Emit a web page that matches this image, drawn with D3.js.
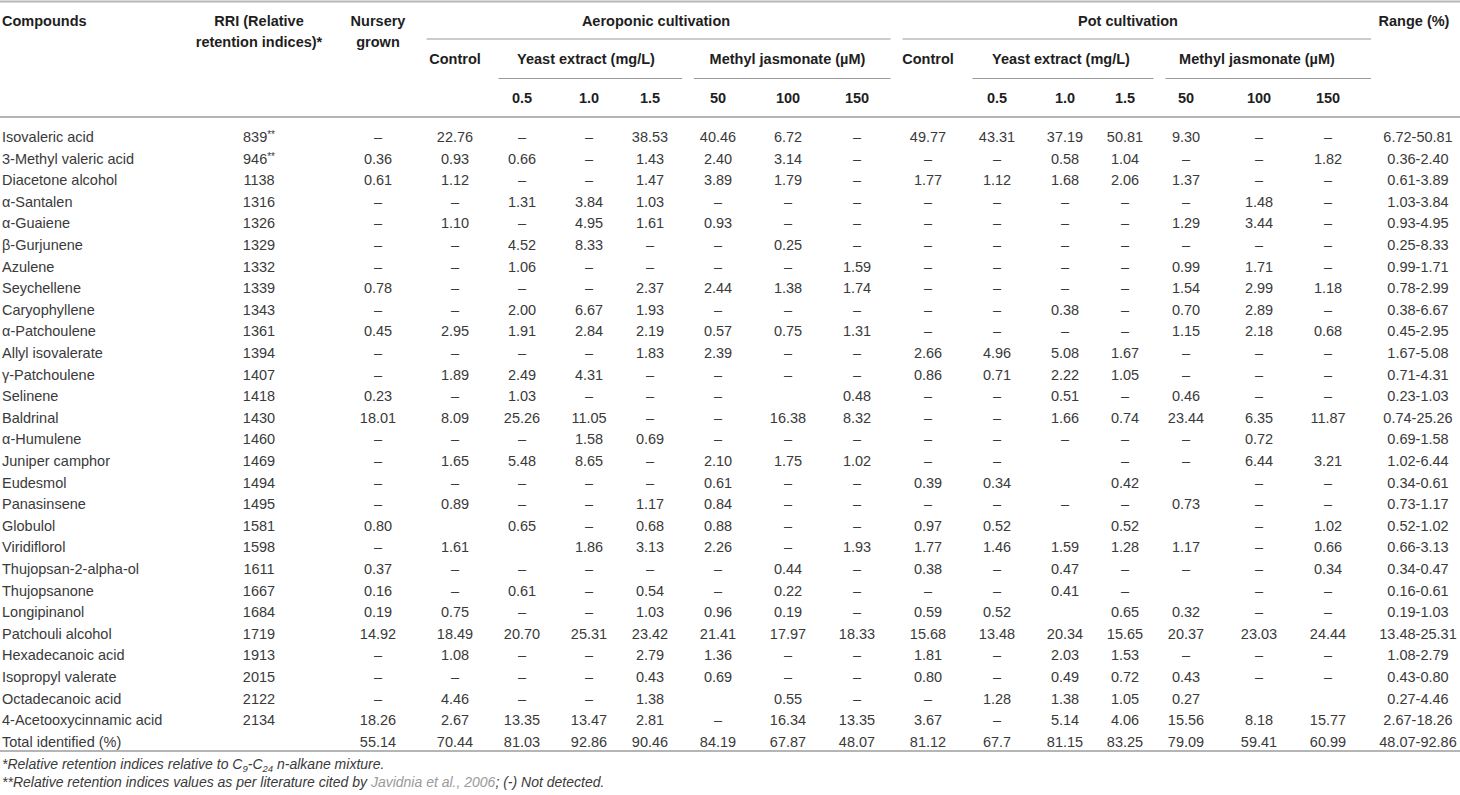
<!DOCTYPE html>
<html>
<head>
<meta charset="utf-8">
<script src="https://cdn.jsdelivr.net/npm/d3@7"></script>
<style>
  html, body { margin: 0; padding: 0; background: #fff; }
  svg { display: block; font-family: "Liberation Sans", Arial, sans-serif; }
  .hd { font-weight: bold; fill: #1e1e1e; font-size: 14.5px; }
  .cell { fill: #3a3a3a; font-size: 14.5px; }
  .note { fill: #3a3a3a; font-size: 14px; font-style: italic; }
</style>
</head>
<body>
<svg id="tbl" width="1460" height="795"></svg>
<script>
// data: one array per column, last entry is the "Total identified" row
const N = "–"; // not detected

const compounds = ["Isovaleric acid", "3-Methyl valeric acid", "Diacetone alcohol", "α-Santalen", "α-Guaiene",
  "β-Gurjunene", "Azulene", "Seychellene", "Caryophyllene", "α-Patchoulene", "Allyl isovalerate", "γ-Patchoulene",
  "Selinene", "Baldrinal", "α-Humulene", "Juniper camphor", "Eudesmol", "Panasinsene", "Globulol", "Viridiflorol",
  "Thujopsan-2-alpha-ol", "Thujopsanone", "Longipinanol", "Patchouli alcohol", "Hexadecanoic acid",
  "Isopropyl valerate", "Octadecanoic acid", "4-Acetooxycinnamic acid", "Total identified (%)"];

const rri = ["839**", "946**", "1138", "1316", "1326", "1329", "1332", "1339", "1343", "1361", "1394", "1407", "1418",
  "1430", "1460", "1469", "1494", "1495", "1581", "1598", "1611", "1667", "1684", "1719", "1913", "2015", "2122", "2134", ""];

const nursery = [N, "0.36", "0.61", N, N, N, N, "0.78", N, "0.45", N, N, "0.23", "18.01", N, N, N, N, "0.80", N,
  "0.37", "0.16", "0.19", "14.92", N, N, N, "18.26", "55.14"];

const aeroControl = ["22.76", "0.93", "1.12", N, "1.10", N, N, N, N, "2.95", N, "1.89", N, "8.09", N, "1.65", N,
  "0.89", "", "1.61", N, N, "0.75", "18.49", "1.08", N, "4.46", "2.67", "70.44"];
const aeroYeast05 = [N, "0.66", N, "1.31", N, "4.52", "1.06", N, "2.00", "1.91", N, "2.49", "1.03", "25.26", N, "5.48",
  N, N, "0.65", "", N, "0.61", N, "20.70", N, N, N, "13.35", "81.03"];
const aeroYeast10 = [N, N, N, "3.84", "4.95", "8.33", N, N, "6.67", "2.84", N, "4.31", N, "11.05", "1.58", "8.65", N,
  N, N, "1.86", N, N, N, "25.31", N, N, N, "13.47", "92.86"];
const aeroYeast15 = ["38.53", "1.43", "1.47", "1.03", "1.61", N, N, "2.37", "1.93", "2.19", "1.83", N, N, N, "0.69",
  N, N, "1.17", "0.68", "3.13", N, "0.54", "1.03", "23.42", "2.79", "0.43", "1.38", "2.81", "90.46"];
const aeroMeJa50 = ["40.46", "2.40", "3.89", N, "0.93", N, N, "2.44", N, "0.57", "2.39", N, N, N, N, "2.10", "0.61",
  "0.84", "0.88", "2.26", N, N, "0.96", "21.41", "1.36", "0.69", "", N, "84.19"];
const aeroMeJa100 = ["6.72", "3.14", "1.79", N, N, "0.25", N, "1.38", N, "0.75", N, N, "", "16.38", N, "1.75", N, N,
  N, N, "0.44", "0.22", "0.19", "17.97", N, N, "0.55", "16.34", "67.87"];
const aeroMeJa150 = [N, N, N, N, N, N, "1.59", "1.74", N, "1.31", N, N, "0.48", "8.32", N, "1.02", N, N, N, "1.93",
  N, N, N, "18.33", N, N, N, "13.35", "48.07"];

const potControl = ["49.77", N, "1.77", N, N, N, N, N, N, N, "2.66", "0.86", N, N, N, N, "0.39", N, "0.97", "1.77",
  "0.38", N, "0.59", "15.68", "1.81", "0.80", N, "3.67", "81.12"];
const potYeast05 = ["43.31", N, "1.12", N, N, N, N, N, N, N, "4.96", "0.71", N, N, N, N, "0.34", N, "0.52", "1.46",
  N, N, "0.52", "13.48", N, N, "1.28", N, "67.7"];
const potYeast10 = ["37.19", "0.58", "1.68", N, N, N, N, N, "0.38", N, "5.08", "2.22", "0.51", "1.66", N, "", "", N,
  "", "1.59", "0.47", "0.41", "", "20.34", "2.03", "0.49", "1.38", "5.14", "81.15"];
const potYeast15 = ["50.81", "1.04", "2.06", N, N, N, N, N, N, N, "1.67", "1.05", N, "0.74", N, N, "0.42", N, "0.52",
  "1.28", N, N, "0.65", "15.65", "1.53", "0.72", "1.05", "4.06", "83.25"];
const potMeJa50 = ["9.30", N, "1.37", N, "1.29", N, "0.99", "1.54", "0.70", "1.15", N, N, "0.46", "23.44", N, N, "",
  "0.73", "", "1.17", N, "", "0.32", "20.37", N, "0.43", "0.27", "15.56", "79.09"];
const potMeJa100 = [N, N, N, "1.48", "3.44", N, "1.71", "2.99", "2.89", "2.18", N, N, N, "6.35", "0.72", "6.44", N, N,
  N, N, N, N, N, "23.03", N, N, "", "8.18", "59.41"];
const potMeJa150 = [N, "1.82", N, N, N, N, N, "1.18", N, "0.68", N, N, N, "11.87", "", "3.21", N, N, "1.02", "0.66",
  "0.34", N, N, "24.44", N, N, "", "15.77", "60.99"];

const range = ["6.72-50.81", "0.36-2.40", "0.61-3.89", "1.03-3.84", "0.93-4.95", "0.25-8.33", "0.99-1.71", "0.78-2.99",
  "0.38-6.67", "0.45-2.95", "1.67-5.08", "0.71-4.31", "0.23-1.03", "0.74-25.26", "0.69-1.58", "1.02-6.44", "0.34-0.61",
  "0.73-1.17", "0.52-1.02", "0.66-3.13", "0.34-0.47", "0.16-0.61", "0.19-1.03", "13.48-25.31", "1.08-2.79",
  "0.43-0.80", "0.27-4.46", "2.67-18.26", "48.07-92.86"];

// header labels
const groupLabels = ["Aeroponic cultivation", "Pot cultivation"];
const treatmentLabels = ["Control", "Yeast extract (mg/L)", "Methyl jasmonate (µM)"];
const yeastDoses = ["0.5", "1.0", "1.5"];
const meJaDoses = ["50", "100", "150"];

const columns = [
  { key: "rri", values: rri },
  { key: "nursery", values: nursery },
  { key: "aCtrl", values: aeroControl },
  { key: "aYe05", values: aeroYeast05 },
  { key: "aYe10", values: aeroYeast10 },
  { key: "aYe15", values: aeroYeast15 },
  { key: "aMj50", values: aeroMeJa50 },
  { key: "aMj100", values: aeroMeJa100 },
  { key: "aMj150", values: aeroMeJa150 },
  { key: "pCtrl", values: potControl },
  { key: "pYe05", values: potYeast05 },
  { key: "pYe10", values: potYeast10 },
  { key: "pYe15", values: potYeast15 },
  { key: "pMj50", values: potMeJa50 },
  { key: "pMj100", values: potMeJa100 },
  { key: "pMj150", values: potMeJa150 },
  { key: "range", values: range },
];

const width = 1460;
const svg = d3.select("#tbl");

// column centres
const x = d3.scaleOrdinal()
  .domain(columns.map((c) => c.key))
  .range([259, 378, 455, 522, 589, 650, 718, 788, 857, 928, 997, 1065, 1125, 1186, 1259, 1328, 1418]);

// rows
const y = d3.scaleBand()
  .domain(d3.range(compounds.length))
  .range([126.2, 126.2 + 21.6 * compounds.length])
  .padding(0);
const yc = (i) => y(i) + y.bandwidth() / 2;

// edge between a column and its neighbour
const keys = x.domain();
function edge(key, side) {
  const i = keys.indexOf(key);
  const j = side === "left" ? i - 1 : i + 1;
  return (x(keys[i]) + x(keys[j])) / 2;
}

// rules
const rules = svg.append("g");
[1.5, 117, 751].forEach((ry) => {
  rules.append("line")
    .attr("x1", 0).attr("x2", width)
    .attr("y1", ry).attr("y2", ry)
    .attr("stroke", "#b5b5b5").attr("stroke-width", 2.2);
});

function spanLine(k0, k1, ly) {
  rules.append("line")
    .attr("x1", edge(k0, "left") + 10)
    .attr("x2", edge(k1, "right") - 2)
    .attr("y1", ly).attr("y2", ly)
    .attr("stroke", "#9a9a9a").attr("stroke-width", 1.1);
}
spanLine("aCtrl", "aMj150", 39);
spanLine("pCtrl", "pMj150", 39);
spanLine("aYe05", "aYe15", 78.5);
spanLine("aMj50", "aMj150", 78.5);
spanLine("pYe05", "pYe15", 78.5);
spanLine("pMj50", "pMj150", 78.5);

// header text
const head = svg.append("g").attr("class", "hd").attr("dominant-baseline", "central");
const hText = (t, hx, hy, anchor = "middle") =>
  head.append("text").attr("x", hx).attr("y", hy).attr("text-anchor", anchor).text(t);

hText("Compounds", 2, 21, "start");
hText("RRI (Relative", x("rri"), 21);
hText("retention indices)*", x("rri"), 42);
hText("Nursery", x("nursery"), 21);
hText("grown", x("nursery"), 42);
hText("Range (%)", x("range") - 4, 21);

[["a", groupLabels[0]], ["p", groupLabels[1]]].forEach(([p, label]) => {
  hText(label, (x(p + "Ctrl") + x(p + "Mj150")) / 2, 21);
  hText(treatmentLabels[0], x(p + "Ctrl"), 59);
  hText(treatmentLabels[1], (x(p + "Ye05") + x(p + "Ye15")) / 2, 59);
  hText(treatmentLabels[2], (x(p + "Mj50") + x(p + "Mj150")) / 2, 59);
  ["Ye05", "Ye10", "Ye15"].forEach((k, i) => hText(yeastDoses[i], x(p + k), 98));
  ["Mj50", "Mj100", "Mj150"].forEach((k, i) => hText(meJaDoses[i], x(p + k), 98));
});

// body
const body = svg.append("g").attr("class", "cell").attr("dominant-baseline", "central");

body.selectAll("text.cmp")
  .data(compounds)
  .join("text")
  .attr("class", "cmp")
  .attr("x", 2)
  .attr("y", (d, i) => yc(i))
  .text((d) => d);

columns.forEach((col) => {
  const t = body.append("g").selectAll("text")
    .data(col.values)
    .join("text")
    .attr("x", x(col.key))
    .attr("y", (d, i) => yc(i))
    .attr("text-anchor", "middle");
  t.each(function (d) {
    const el = d3.select(this);
    const m = /^(\d+)(\*+)$/.exec(d);
    if (m) {
      el.append("tspan").text(m[1]);
      el.append("tspan").attr("font-size", "10px").attr("dy", -3).text(m[2]);
    } else {
      el.text(d);
    }
  });
});

// footnotes
const notes = svg.append("g").attr("class", "note");
const n1 = notes.append("text").attr("x", 2).attr("y", 769);
n1.append("tspan").text("*Relative retention indices relative to C");
n1.append("tspan").attr("font-size", "9.5px").attr("dy", 3).text("9");
n1.append("tspan").attr("dy", -3).text("-C");
n1.append("tspan").attr("font-size", "9.5px").attr("dy", 3).text("24");
n1.append("tspan").attr("dy", -3).text(" n-alkane mixture.");

const n2 = notes.append("text").attr("x", 2).attr("y", 787);
n2.append("tspan").text("**Relative retention indices values as per literature cited by ");
n2.append("tspan").attr("fill", "#9a9a9a").text("Javidnia et al., 2006");
n2.append("tspan").text("; (-) Not detected.");
</script>
</body>
</html>
